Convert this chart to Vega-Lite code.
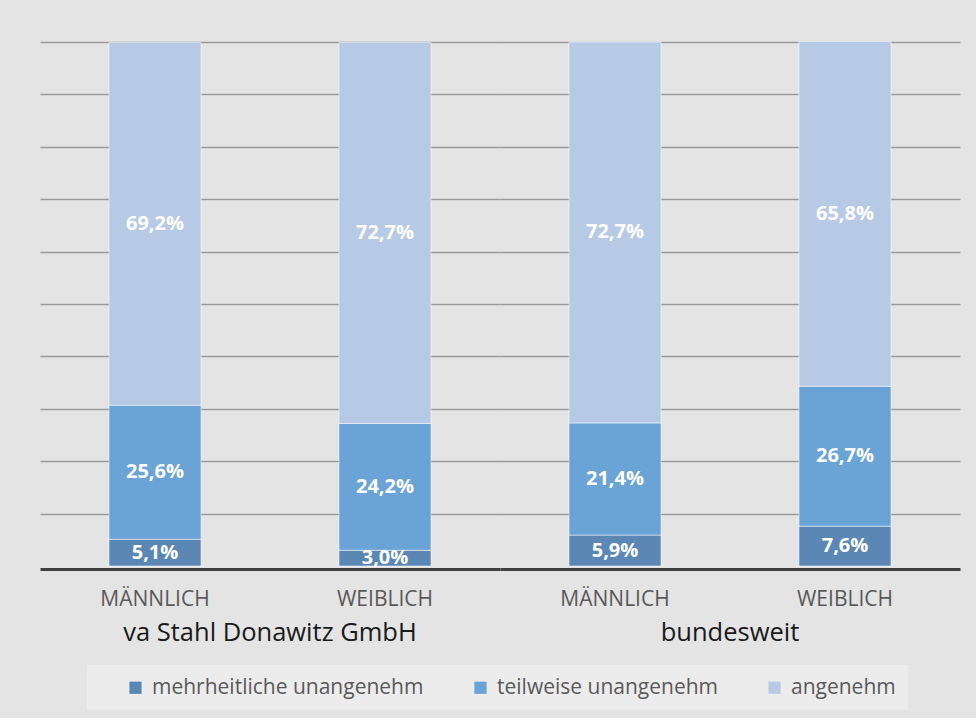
{
  "$schema": "https://vega.github.io/schema/vega-lite/v6.json",
  "background": "#e4e4e4",
  "padding": {"left": 40, "top": 40, "right": 16, "bottom": 8},
  "data": {
    "values": [
      {"group": "va Stahl Donawitz GmbH", "gender": "MÄNNLICH", "cat": "mehrheitliche unangenehm", "ord": 1, "value": 0.051},
      {"group": "va Stahl Donawitz GmbH", "gender": "MÄNNLICH", "cat": "teilweise unangenehm", "ord": 2, "value": 0.256},
      {"group": "va Stahl Donawitz GmbH", "gender": "MÄNNLICH", "cat": "angenehm", "ord": 3, "value": 0.692},
      {"group": "va Stahl Donawitz GmbH", "gender": "WEIBLICH", "cat": "mehrheitliche unangenehm", "ord": 1, "value": 0.030},
      {"group": "va Stahl Donawitz GmbH", "gender": "WEIBLICH", "cat": "teilweise unangenehm", "ord": 2, "value": 0.242},
      {"group": "va Stahl Donawitz GmbH", "gender": "WEIBLICH", "cat": "angenehm", "ord": 3, "value": 0.727},
      {"group": "bundesweit", "gender": "MÄNNLICH", "cat": "mehrheitliche unangenehm", "ord": 1, "value": 0.059},
      {"group": "bundesweit", "gender": "MÄNNLICH", "cat": "teilweise unangenehm", "ord": 2, "value": 0.214},
      {"group": "bundesweit", "gender": "MÄNNLICH", "cat": "angenehm", "ord": 3, "value": 0.727},
      {"group": "bundesweit", "gender": "WEIBLICH", "cat": "mehrheitliche unangenehm", "ord": 1, "value": 0.076},
      {"group": "bundesweit", "gender": "WEIBLICH", "cat": "teilweise unangenehm", "ord": 2, "value": 0.267},
      {"group": "bundesweit", "gender": "WEIBLICH", "cat": "angenehm", "ord": 3, "value": 0.658}
    ]
  },
  "transform": [
    {"stack": "value", "groupby": ["group", "gender"], "sort": [{"field": "ord", "order": "ascending"}], "as": ["v0", "v1"]},
    {"calculate": "(datum.v0 + datum.v1) / 2", "as": "mid"}
  ],
  "facet": {
    "column": {
      "field": "group",
      "sort": ["va Stahl Donawitz GmbH", "bundesweit"],
      "header": {
        "title": null,
        "labelOrient": "bottom",
        "labelFont": "Open Sans",
        "labelFontSize": 25.5,
        "labelColor": "#1a1a1a",
        "labelPadding": 12
      }
    }
  },
  "spacing": 0,
  "spec": {
    "width": 460,
    "height": 524,
    "layer": [
      {
        "mark": {"type": "bar", "stroke": "#ffffff", "strokeWidth": 1, "strokeOpacity": 0.5},
        "encoding": {
          "x": {
            "field": "gender", "type": "nominal",
            "scale": {"paddingInner": 0.6, "paddingOuter": 0.3},
            "axis": {
              "title": null, "labelAngle": 0, "ticks": false,
              "domainColor": "#404040", "domainWidth": 3,
              "labelFont": "Open Sans", "labelFontSize": 21, "labelColor": "#595959",
              "labelPadding": 19
            }
          },
          "y": {
            "field": "v0", "type": "quantitative",
            "scale": {"domain": [0, 1]},
            "axis": {
              "title": null, "labels": false, "ticks": false, "domain": false,
              "grid": true, "gridColor": "#9a9a9a", "gridWidth": 1.5,
              "values": [0.1, 0.2, 0.3, 0.4, 0.5, 0.6, 0.7, 0.8, 0.9, 1]
            }
          },
          "y2": {"field": "v1"},
          "color": {
            "field": "cat", "type": "nominal",
            "scale": {
              "domain": ["mehrheitliche unangenehm", "teilweise unangenehm", "angenehm"],
              "range": ["#5a87b4", "#6aa3d6", "#b6cae6"]
            },
            "legend": {
              "title": " ",
              "titleOrient": "left",
              "titlePadding": 26,
              "orient": "none",
              "legendX": 47,
              "legendY": 623,
              "direction": "horizontal",
              "symbolType": "square",
              "symbolSize": 150,
              "symbolStrokeWidth": 0,
              "labelFont": "Open Sans",
              "labelFontSize": 21,
              "labelColor": "#595959",
              "labelLimit": 400,
              "labelOffset": 6,
              "columnPadding": 46,
              "fillColor": "#ececec",
              "padding": 12
            }
          }
        }
      },
      {
        "mark": {"type": "text", "font": "Open Sans", "fontWeight": "bold", "fontSize": 20, "color": "#ffffff", "baseline": "middle"},
        "encoding": {
          "x": {"field": "gender", "type": "nominal"},
          "y": {"field": "mid", "type": "quantitative"},
          "text": {"field": "value", "type": "quantitative", "format": ".1%"}
        }
      }
    ]
  },
  "config": {
    "locale": {"number": {"decimal": ",", "thousands": ".", "grouping": [3], "currency": ["", " €"]}},
    "view": {"stroke": null}
  }
}
